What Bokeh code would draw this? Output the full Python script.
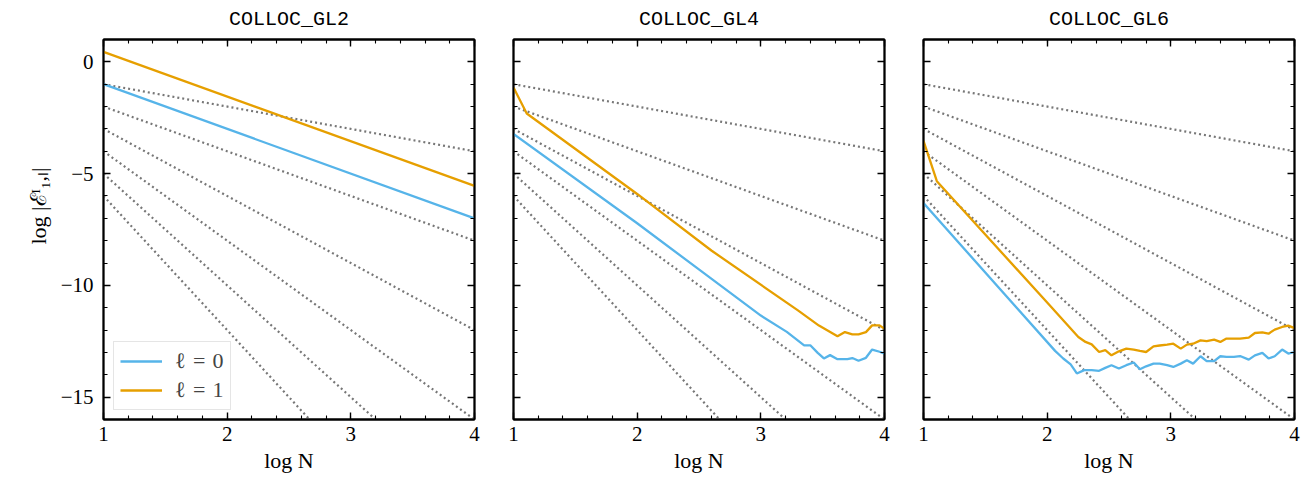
from bokeh.plotting import figure
from bokeh.models import (Range1d, LinearAxis, SingleIntervalTicker, Legend, LegendItem,
                          CustomLabelingPolicy, Title)
from bokeh.layouts import row
from bokeh.embed import file_html
from bokeh.resources import INLINE

# ---------------- data ----------------
titles = ["COLLOC_GL2", "COLLOC_GL4", "COLLOC_GL6"]
x_label = "log N"
y_label = "log |\u2130\u1d35\u2081,\u2097|"
y_ticks = [0, -5, -10, -15]
y_tick_labels = ["0", "\u22125", "\u221210", "\u221215"]
legend_labels = ["\u2113\u2004=\u20040", "\u2113\u2004=\u20041"]

# dotted reference lines: slopes -1 ... -6 through log N = 1 .. 4
ref_x = [1.0, 4.0]
ref_start = [-1, -2, -3, -4, -5, -6]
ref_end = [-4, -8, -12, -16, -20, -24]

# COLLOC_GL2
gl2_l0_x = [1.0, 4.0]
gl2_l0_y = [-1.0, -7.0]
gl2_l1_x = [1.0, 4.0]
gl2_l1_y = [0.45, -5.55]

# COLLOC_GL4
gl4_l0_x = [1.0, 2.0, 2.51, 3.0, 3.21, 3.35, 3.40, 3.46, 3.51, 3.56, 3.62, 3.70,
            3.74, 3.79, 3.85, 3.90, 3.96, 4.0]
gl4_l0_y = [-3.23, -7.22, -9.33, -11.35, -12.08, -12.68, -12.68, -13.02, -13.27, -13.12,
            -13.30, -13.30, -13.25, -13.37, -13.24, -12.87, -12.97, -13.05]
gl4_l1_x = [1.0, 1.107, 2.0, 2.6, 3.3, 3.47, 3.62, 3.68, 3.74, 3.79, 3.85, 3.90, 3.96, 4.0]
gl4_l1_y = [-1.15, -2.31, -5.91, -8.44, -11.12, -11.80, -12.28, -12.09, -12.19, -12.19,
            -12.09, -11.79, -11.79, -11.94]

# COLLOC_GL6
gl6_l0_x = [1.0, 2.064, 2.13, 2.19, 2.24, 2.30, 2.36, 2.42, 2.47, 2.52, 2.58, 2.64, 2.70,
            2.75, 2.80, 2.86, 2.91, 2.97, 3.02, 3.08, 3.13, 3.18, 3.24, 3.29, 3.35, 3.40,
            3.45, 3.51, 3.56, 3.63, 3.68, 3.74, 3.79, 3.84, 3.90, 3.95, 4.0]
gl6_l0_y = [-6.32, -12.93, -13.27, -13.53, -13.94, -13.79, -13.79, -13.82, -13.69, -13.57,
            -13.72, -13.57, -13.45, -13.75, -13.62, -13.5, -13.5, -13.57, -13.65, -13.5,
            -13.35, -13.5, -13.17, -13.39, -13.39, -13.17, -13.2, -13.2, -13.16, -13.32,
            -13.13, -13.02, -13.27, -13.17, -12.87, -13.05, -12.98]
gl6_l1_x = [1.0, 1.108, 2.0, 2.252, 2.31, 2.36, 2.42, 2.47, 2.52, 2.58, 2.64, 2.70, 2.75,
            2.80, 2.86, 2.91, 2.97, 3.02, 3.08, 3.13, 3.18, 3.24, 3.29, 3.35, 3.40, 3.45,
            3.51, 3.56, 3.63, 3.68, 3.74, 3.79, 3.84, 3.90, 3.95, 4.0]
gl6_l1_y = [-3.53, -5.34, -10.77, -12.31, -12.53, -12.64, -12.98, -12.9, -13.13, -12.95,
            -12.83, -12.87, -12.93, -12.98, -12.73, -12.69, -12.65, -12.61, -12.83, -12.65,
            -12.61, -12.46, -12.49, -12.43, -12.53, -12.38, -12.38, -12.38, -12.34, -12.13,
            -12.1, -12.16, -11.98, -11.86, -11.80, -11.91]

series = [
    ((gl2_l0_x, gl2_l0_y), (gl2_l1_x, gl2_l1_y)),
    ((gl4_l0_x, gl4_l0_y), (gl4_l1_x, gl4_l1_y)),
    ((gl6_l0_x, gl6_l0_y), (gl6_l1_x, gl6_l1_y)),
]

# ---------------- style ----------------
BLUE = "#56B4E9"
ORANGE = "#E69F00"
GREY = "#777777"
SERIF = "Liberation Serif"
MONO = "Liberation Mono"

NO_LABELS = """
try { for (const i of Array.from(indices)) { indices.unset(i) } } catch (e) {}
return indices
"""


def add_axis(p, place, show_labels, label=None):
    horiz = place in ("below", "above")
    ticker = SingleIntervalTicker(interval=1 if horiz else 5, num_minor_ticks=5)
    ax = LinearAxis(ticker=ticker)
    ax.major_tick_in = 7
    ax.major_tick_out = 0
    ax.minor_tick_in = 4
    ax.minor_tick_out = 0
    ax.major_tick_line_width = 1.4
    ax.minor_tick_line_width = 1.1
    ax.axis_line_width = 1.8
    ax.axis_line_color = "black"
    if show_labels:
        ax.major_label_text_font = SERIF
        ax.major_label_text_font_size = "21px"
        ax.major_label_text_color = "black"
        ax.major_label_standoff = 7 if horiz else 10
        if not horiz:
            ax.major_label_overrides = {t: s for t, s in zip(y_ticks, y_tick_labels)}
    else:
        ax.major_label_policy = CustomLabelingPolicy(code=NO_LABELS)
        ax.major_label_text_font_size = "1px"
        ax.major_label_standoff = 0
    if label is not None:
        ax.axis_label = label
        ax.axis_label_text_font = SERIF
        ax.axis_label_text_font_size = "22px"
        ax.axis_label_text_font_style = "normal"
        ax.axis_label_text_color = "black"
        ax.axis_label_standoff = 4
    p.add_layout(ax, place)


def make_panel(i, width, lb, rb):
    p = figure(width=width, height=482, x_range=Range1d(1, 4), y_range=Range1d(-16, 1),
               output_backend="svg", toolbar_location=None,
               min_border_left=lb, min_border_right=rb, min_border_top=39,
               min_border_bottom=63, x_axis_location=None, y_axis_location=None)
    p.grid.visible = False
    p.outline_line_color = "black"
    p.outline_line_width = 1.8
    p.background_fill_color = "white"
    p.border_fill_color = "white"

    p.title.text = titles[i]
    p.title.align = "center"
    p.title.text_font = MONO
    p.title.text_font_size = "20px"
    p.title.text_font_style = "normal"
    p.title.text_color = "black"
    p.title.standoff = 10

    add_axis(p, "below", True, x_label)
    add_axis(p, "above", False)
    add_axis(p, "left", i == 0)
    add_axis(p, "right", False)

    if i == 0:
        # y label as a left-side title, anchored at its start (bottom)
        p.add_layout(Title(text=y_label, align="left", offset=175, text_font=SERIF,
                           text_font_size="22px", text_font_style="normal",
                           text_color="black", standoff=14), "left")

    for k0, k1 in zip(ref_start, ref_end):
        p.line(ref_x, [k0, k1], line_color=GREY, line_width=2.2, line_dash="2 3")

    (x0, y0), (x1, y1) = series[i]
    r0 = p.line(x0, y0, line_color=BLUE, line_width=2.3)
    r1 = p.line(x1, y1, line_color=ORANGE, line_width=2.3)

    if i == 0:
        legend = Legend(items=[LegendItem(label=legend_labels[0], renderers=[r0]),
                               LegendItem(label=legend_labels[1], renderers=[r1])],
                        location=(10, 9))
        legend.label_text_font = SERIF
        legend.label_text_font_size = "22px"
        legend.glyph_width = 42
        legend.glyph_height = 22
        legend.label_standoff = 13
        legend.padding = 6
        legend.spacing = 3
        legend.margin = 0
        legend.border_line_color = "#cccccc"
        legend.border_line_width = 1.5
        legend.background_fill_alpha = 0.8
        p.add_layout(legend)
    return p


p1 = make_panel(0, 493, 103, 19)
p2 = make_panel(1, 410, 20, 19)
p3 = make_panel(2, 404, 20, 13)

layout = row(p1, p2, p3)
open("out.html", "w").write(file_html(layout, INLINE))
